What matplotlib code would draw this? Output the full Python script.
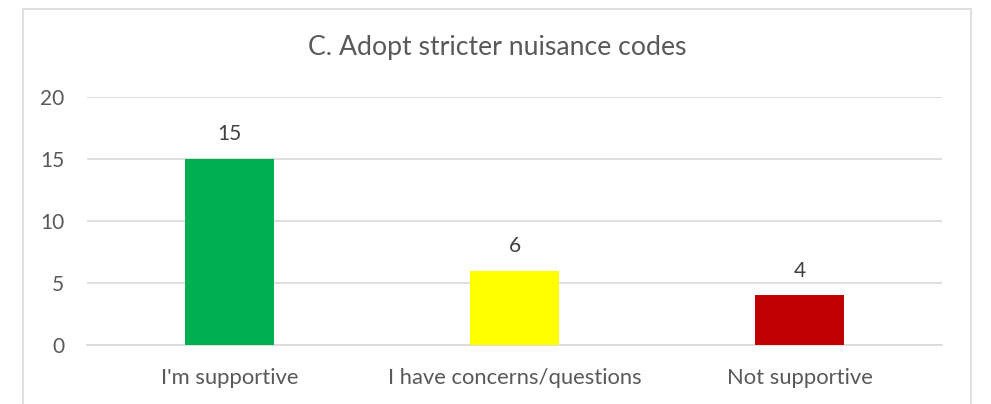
import matplotlib.pyplot as plt
from matplotlib.patches import Rectangle

# data
categories = ["I'm supportive", "I have concerns/questions", "Not supportive"]
counts = [15, 6, 4]
bar_colors = ["#00B050", "#FFFF00", "#C00000"]
yticks = [0, 5, 10, 15, 20]

plt.rcParams['font.family'] = ['Lato', 'DejaVu Sans']
text_col = "#595959"
grid_col = "#D9D9D9"

fig = plt.figure(figsize=(9.91, 4.04), dpi=100)
ax = fig.add_axes([87/991, 1 - 345/404, (942 - 87)/991, (345 - 97)/404])

# outer chart border (bottom edge runs off the image)
fig.patches.append(Rectangle((23/991, -0.05), (971 - 23)/991, 1.05 - 9/404,
                             transform=fig.transFigure, fill=False,
                             edgecolor=grid_col, linewidth=1.2))

x = range(len(categories))
bars = ax.bar(x, counts, width=0.315, color=bar_colors, zorder=3)

for b, v in zip(bars, counts):
    ax.text(b.get_x() + b.get_width()/2, v + 2.0, str(v), ha='center', va='center',
            fontsize=15, color="#404040")

ax.set_xlim(-0.5, 2.5)
ax.set_ylim(0, 20)
ax.set_yticks(yticks)
ax.set_xticks(list(x))
ax.set_xticklabels(categories)
ax.yaxis.grid(True, color=grid_col, linewidth=1.2, zorder=0)
ax.tick_params(axis='y', length=0, labelsize=15, colors=text_col, pad=16.5)
ax.tick_params(axis='x', length=0, labelsize=15.8, colors=text_col, pad=16.5)
for s in ['top', 'right', 'left']:
    ax.spines[s].set_visible(False)
ax.spines['bottom'].set_color(grid_col)
ax.spines['bottom'].set_linewidth(1.2)

fig.text(497/991, 1 - 48/404, "C. Adopt stricter nuisance codes", ha='center', va='center',
         fontsize=19.2, color=text_col)

fig.savefig("out.png", dpi=100)
